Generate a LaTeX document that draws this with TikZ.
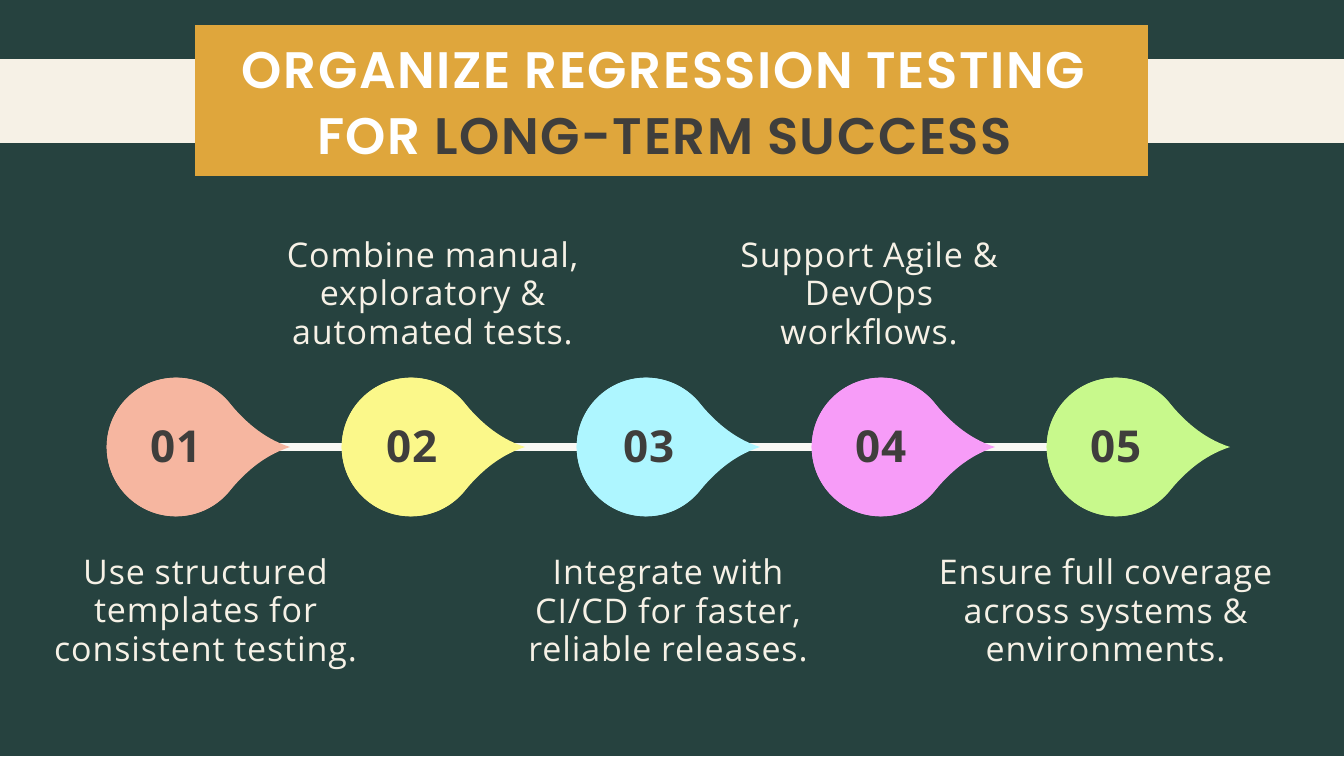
\documentclass[tikz,border=0pt]{standalone}
\usepackage{fontspec}
\setmainfont[LetterSpace=2.6]{Open Sans}
\newfontfamily\numfont{Open Sans}
\newfontfamily\titlefont[LetterSpace=3]{Poppins SemiBold}
\pgfdeclarelayer{front}
\pgfsetlayers{main,front}
\definecolor{bgc}{HTML}{26423F}
\definecolor{creamc}{HTML}{F6F1E6}
\definecolor{linkc}{HTML}{F8F8F4}
\definecolor{goldc}{HTML}{DFA63C}
\definecolor{inkc}{HTML}{3F3E3C}
\definecolor{c1}{HTML}{F6B6A0}
\definecolor{c2}{HTML}{FBF88A}
\definecolor{c3}{HTML}{AEF6FF}
\definecolor{c4}{HTML}{F79CF8}
\definecolor{c5}{HTML}{C8F98C}
\tikzset{
  x=1pt,y=-1pt,
  body/.style={text=creamc,font=\fontsize{34}{38.6}\selectfont,align=center,inner sep=0pt},
  disc/.style={circle,minimum size=138.6pt,inner sep=0pt,text=inkc,font=\fontsize{44}{46}\numfont\bfseries},
  link/.style={draw=linkc,line width=7.5pt},
  ttl/.style={font=\fontsize{51.3}{55}\titlefont,inner sep=0pt,anchor=base}
}
\newcommand{\dropshape}[3]{% name, colour, x of centre
  \fill[#2] (#3+53.1,447-44.5) .. controls (#3+67.2,447-27.6) and (#3+86,447-9) .. (#3+114,447)
    .. controls (#3+86,447+9) and (#3+67.2,447+27.6) .. (#3+53.1,447+44.5)
    arc[start angle=-40,end angle=-320,radius=69.3pt] -- cycle;
  \coordinate (#1) at (#3+100,447);
}
\begin{document}
\begin{tikzpicture}
\useasboundingbox (0,0) rectangle (1344,756);
\fill[bgc] (0,0) rectangle (1344,756);
\fill[creamc] (0,59) rectangle (1344,143);
\node[fill=goldc,minimum width=953pt,minimum height=151pt,inner sep=0pt] (banner) at (671.5,100.5) {};
\node[ttl,text=white] (t1) at (663.5,88) {ORGANIZE REGRESSION TESTING};
\node[ttl,text=white,anchor=base west] (t2) at (317,154) {FOR \textcolor{inkc}{LONG-TERM SUCCESS}};

\begin{pgfonlayer}{front}
\foreach \nm/\cc/\xx in {tipa/c1/176,tipb/c2/411,tipc/c3/646,tipd/c4/881,tipe/c5/1116}{
  \dropshape{\nm}{\cc}{\xx}
}
\node[disc,fill=c1] (n1) at (176,447) {01};
\node[disc,fill=c2] (n2) at (411,447) {\hspace{2pt}02};
\node[disc,fill=c3] (n3) at (646,447) {\hspace{6pt}03};
\node[disc,fill=c4] (n4) at (881,447) {04};
\node[disc,fill=c5] (n5) at (1116,447) {05};
\end{pgfonlayer}
\draw[link] (tipa) -- (n2);
\draw[link] (tipb) -- (n3);
\draw[link] (tipc) -- (n4);
\draw[link] (tipd) -- (n5);

\node[body] (a) at (205.5,614) {Use structured\\templates for\\consistent testing.};
\node[body] (b) at (432.5,293) {Combine manual,\\exploratory \&\\automated tests.};
\node[body] (c) at (668,610.5) {Integrate with\\CI/CD for faster,\\reliable releases.};
\node[body] (d) at (869,293) {Support Agile \&\\DevOps\\workflows.};
\node[body] (e) at (1105.5,610.5) {Ensure full coverage\\across systems \&\\environments.};
\end{tikzpicture}
\end{document}
